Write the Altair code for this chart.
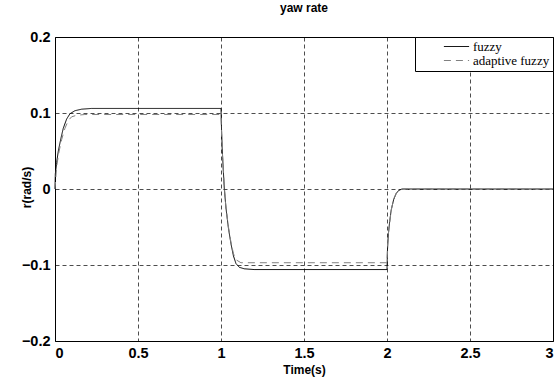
import altair as alt
import pandas as pd

# fuzzy controller response
t_fuzzy = [0.0, 0.002, 0.01, 0.02, 0.035, 0.05, 0.07, 0.09, 0.12, 0.16, 0.22, 1.0,
           1.003, 1.008, 1.015, 1.02, 1.03, 1.045, 1.06, 1.075, 1.09, 1.11, 1.14, 1.2, 2.0,
           2.003, 2.008, 2.015, 2.025, 2.04, 2.055, 2.07, 2.09, 3.0]
r_fuzzy = [0.0, 0.02, 0.035, 0.05, 0.066, 0.08, 0.092, 0.099, 0.103, 0.105, 0.106, 0.106,
           0.08, 0.05, 0.02, 0.0, -0.025, -0.052, -0.072, -0.088, -0.098, -0.103, -0.105, -0.106, -0.106,
           -0.08, -0.06, -0.045, -0.028, -0.014, -0.006, -0.002, 0.0, 0.0]

# adaptive fuzzy controller response
t_adaptive = [0.0, 0.01, 0.025, 0.04, 0.06, 0.08, 0.1, 0.13, 0.18, 1.0,
              1.004, 1.01, 1.018, 1.03, 1.045, 1.06, 1.075, 1.09, 1.12, 2.0,
              2.004, 2.01, 2.018, 2.028, 2.042, 2.06, 2.08, 2.1, 3.0]
r_adaptive = [0.0, 0.03, 0.05, 0.065, 0.08, 0.09, 0.095, 0.097, 0.098, 0.098,
              0.07, 0.04, 0.01, -0.025, -0.05, -0.07, -0.085, -0.093, -0.097, -0.097,
              -0.07, -0.055, -0.04, -0.025, -0.012, -0.004, -0.001, 0.0, 0.0]

series_names = ["fuzzy", "adaptive fuzzy"]
x_ticks = [0, 0.5, 1, 1.5, 2, 2.5, 3]
y_ticks = [-0.2, -0.1, 0, 0.1, 0.2]

df = pd.concat([
    pd.DataFrame({"t": t_fuzzy, "r": r_fuzzy, "series": series_names[0], "order": range(len(t_fuzzy))}),
    pd.DataFrame({"t": t_adaptive, "r": r_adaptive, "series": series_names[1], "order": range(len(t_adaptive))}),
])

label_font = "Liberation Sans"

chart = alt.Chart(df).mark_line(strokeWidth=1).encode(
    x=alt.X("t:Q", scale=alt.Scale(domain=[0, 3], nice=False),
            axis=alt.Axis(values=x_ticks, title="Time(s)", format="~g")),
    y=alt.Y("r:Q", scale=alt.Scale(domain=[-0.2, 0.2], nice=False),
            axis=alt.Axis(values=y_ticks, title="r(rad/s)", format="~g",
                          titleX=-22, titleY=150)),
    color=alt.Color("series:N", sort=series_names,
                    scale=alt.Scale(domain=series_names, range=["#000000", "#808080"]),
                    legend=alt.Legend(title=None)),
    strokeDash=alt.StrokeDash("series:N", sort=series_names,
                              scale=alt.Scale(domain=series_names, range=[[1, 0], [7, 5]]),
                              legend=alt.Legend(title=None)),
    order="order:Q",
).properties(
    width=498, height=304,
    title=alt.TitleParams("yaw rate", fontSize=12, fontWeight="bold", font=label_font,
                          color="black", offset=14),
    autosize=alt.AutoSizeParams(type="none"),
    padding={"left": 55, "top": 37, "right": 7, "bottom": 41},
).configure_view(
    stroke="black", strokeWidth=1
).configure_axis(
    grid=True, gridColor="black", gridDash=[4, 3], gridOpacity=1, gridWidth=0.7,
    ticks=False, domain=False,
    labelFont=label_font, labelFontSize=14.5, labelFontWeight="bold", labelColor="black",
    titleFont=label_font, titleFontSize=12, titleFontWeight="bold", titleColor="black",
    labelPadding=5,
).configure_axisX(
    titlePadding=5
).configure_legend(
    orient="top-right", offset=0, strokeColor="black", fillColor="white",
    padding=3, labelFont="Liberation Serif", labelFontSize=13, labelColor="black",
    symbolType="M-2.1,0H2.1", symbolSize=144, symbolStrokeWidth=1, rowPadding=0,
    symbolOffset=32, labelOffset=10, cornerRadius=0,
)

chart.save("out.html", embed_options={"renderer": "svg", "actions": False})
